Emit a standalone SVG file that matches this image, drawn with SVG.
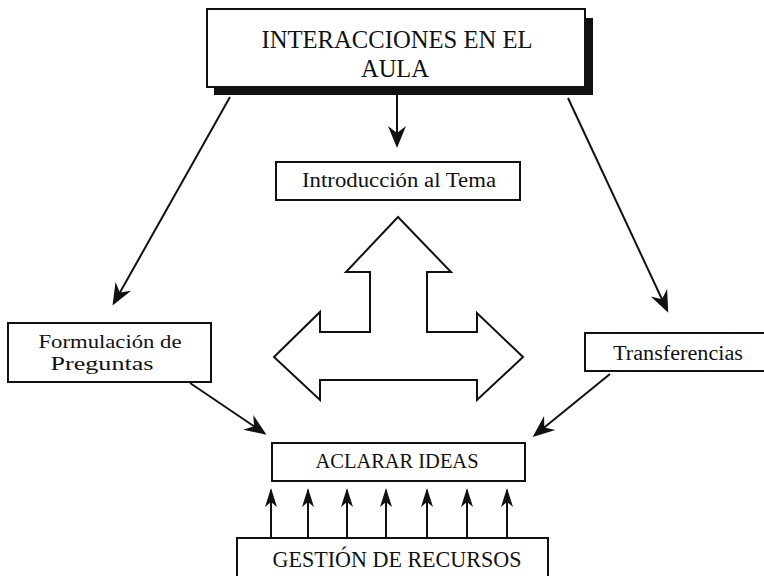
<svg xmlns="http://www.w3.org/2000/svg" width="764" height="576" viewBox="0 0 764 576">
  <style>
    .box { fill: #fff; stroke: #111; stroke-width: 2; }
    .t { font-family: "Liberation Serif", "Times New Roman", serif; fill: #111; text-anchor: middle; }
    .ln { stroke: #111; stroke-width: 2; fill: none; }
  </style>
  <defs>
    <marker id="ah" viewBox="-24 -10 26 20" refX="-3" refY="0" markerWidth="26" markerHeight="20" markerUnits="userSpaceOnUse" orient="auto">
      <path d="M0,0 L-22,-9 L-15,0 L-22,9 Z" fill="#111"/>
    </marker>
    <marker id="ahs" viewBox="-20 -8 22 16" refX="-2" refY="0" markerWidth="22" markerHeight="16" markerUnits="userSpaceOnUse" orient="auto">
      <path d="M0,0 L-19,-6 L-14,0 L-19,6 Z" fill="#111"/>
    </marker>
  </defs>
  <rect width="764" height="576" fill="#fff"/>

  <g id="connectors">
    <line class="ln" x1="397" y1="95" x2="397" y2="145" marker-end="url(#ah)"/>
    <line class="ln" x1="230" y1="97" x2="114" y2="303" marker-end="url(#ah)"/>
    <line class="ln" x1="568" y1="98" x2="667" y2="310" marker-end="url(#ah)"/>
    <line class="ln" x1="190" y1="383" x2="264" y2="433" marker-end="url(#ah)"/>
    <line class="ln" x1="610" y1="374" x2="535" y2="435" marker-end="url(#ah)"/>
    <line class="ln" x1="271" y1="538" x2="271" y2="490" marker-end="url(#ahs)"/>
    <line class="ln" x1="308" y1="538" x2="308" y2="490" marker-end="url(#ahs)"/>
    <line class="ln" x1="347" y1="538" x2="347" y2="490" marker-end="url(#ahs)"/>
    <line class="ln" x1="386" y1="538" x2="386" y2="490" marker-end="url(#ahs)"/>
    <line class="ln" x1="427" y1="538" x2="427" y2="490" marker-end="url(#ahs)"/>
    <line class="ln" x1="467" y1="538" x2="467" y2="490" marker-end="url(#ahs)"/>
    <line class="ln" x1="507" y1="538" x2="507" y2="490" marker-end="url(#ahs)"/>
  </g>

  <g id="interacciones">
    <path d="M585,18 H593 V95 H214 V87 H585 Z" fill="#111"/>
    <rect class="box" x="207" y="9" width="378" height="78"/>
    <text class="t" x="397" y="48" font-size="24.5" textLength="271" lengthAdjust="spacingAndGlyphs">INTERACCIONES EN EL</text>
    <text class="t" x="395" y="77" font-size="24.5">AULA</text>
  </g>

  <g id="introduccion">
    <rect class="box" x="276" y="162" width="244" height="38"/>
    <text class="t" x="399" y="187" font-size="20" textLength="194" lengthAdjust="spacingAndGlyphs">Introducción al Tema</text>
  </g>

  <g id="flecha-triple">
    <path class="ln" d="M398,217 L451,272 H427 V332 H477 V313 L523,357 L477,400 V380 H320 V400 L274,357 L320,312 V332 H370 V272 H346 Z" stroke-linejoin="miter"/>
  </g>

  <g id="formulacion">
    <rect class="box" x="8" y="323" width="203" height="59"/>
    <text class="t" x="110" y="348" font-size="18.5" textLength="143" lengthAdjust="spacingAndGlyphs">Formulación de</text>
    <text class="t" x="102" y="370" font-size="18.5" textLength="103" lengthAdjust="spacingAndGlyphs">Preguntas</text>
  </g>

  <g id="transferencias">
    <rect class="box" x="585" y="333" width="185" height="38"/>
    <text class="t" x="678" y="360" font-size="20" textLength="130" lengthAdjust="spacingAndGlyphs">Transferencias</text>
  </g>

  <g id="aclarar">
    <rect class="box" x="272" y="443" width="253" height="38"/>
    <text class="t" x="397" y="468" font-size="20" textLength="163" lengthAdjust="spacingAndGlyphs">ACLARAR IDEAS</text>
  </g>

  <g id="gestion">
    <rect class="box" x="237" y="538" width="311" height="50"/>
    <text class="t" x="397" y="567" font-size="23" textLength="249" lengthAdjust="spacingAndGlyphs">GESTIÓN DE RECURSOS</text>
  </g>
</svg>
